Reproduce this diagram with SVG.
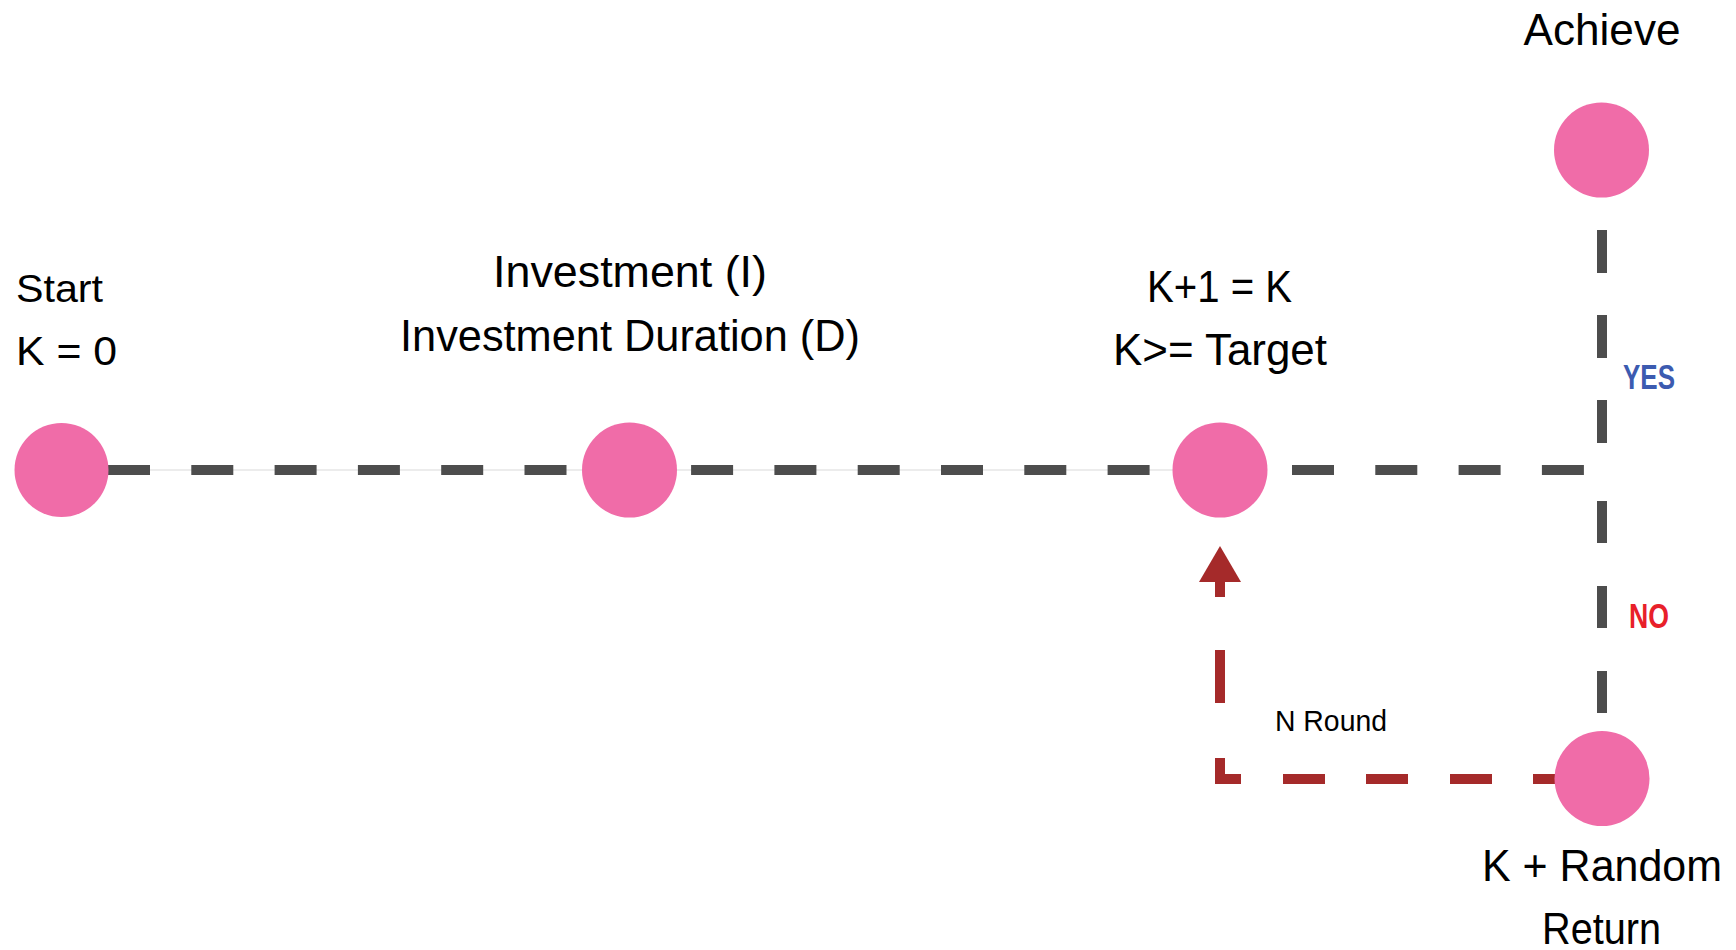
<svg xmlns="http://www.w3.org/2000/svg" width="1736" height="950" viewBox="0 0 1736 950">
<style>
.node{fill:#f06ca8}
.lbl{font-family:"Liberation Sans",Arial,sans-serif;font-size:44px;fill:#000}
.tag{font-family:"Liberation Sans",Arial,sans-serif;font-weight:bold;font-size:35px}
.thin{stroke:#e6e6e6;stroke-width:1.5;fill:none}
.gd{stroke:#4d4d4d;stroke-width:10;fill:none;stroke-dasharray:42 41.3}
.rd{stroke:#a52a2a;stroke-width:10;fill:none;stroke-linejoin:miter}
</style>
<rect width="1736" height="950" fill="#fff"/>
<g id="connectors">
  <line class="thin" x1="100" y1="470" x2="1180" y2="470"/>
  <line class="gd" x1="108" y1="470" x2="1180" y2="470"/>
  <line class="gd" x1="1292" y1="470" x2="1586" y2="470"/>
  <line class="gd" x1="1602" y1="230" x2="1602" y2="443" style="stroke-dasharray:43 42"/>
  <line class="gd" x1="1602" y1="501" x2="1602" y2="713" style="stroke-dasharray:42 43"/>
  <path class="rd" d="M1220,597 V779 H1560" stroke-dasharray="0 53 53 55 42 42 42 41 42 42 42 41 42 41 200"/>
  <line x1="1220" y1="580" x2="1220" y2="597" stroke="#a52a2a" stroke-width="10"/>
  <polygon points="1220,546 1241,582 1199,582" fill="#a52a2a"/>
  <text class="tag" x="1649" y="389" text-anchor="middle" fill="#3c5bb0" textLength="52" lengthAdjust="spacingAndGlyphs">YES</text>
  <text class="tag" x="1649" y="628" text-anchor="middle" fill="#e8202a" textLength="40" lengthAdjust="spacingAndGlyphs">NO</text>
  <text class="lbl" x="1331" y="731" text-anchor="middle" style="font-size:29px" textLength="112" lengthAdjust="spacingAndGlyphs">N Round</text>
</g>
<g id="node-start">
  <circle class="node" cx="61.5" cy="470" r="47"/>
  <text class="lbl" x="16" y="302" style="font-size:38px" textLength="87" lengthAdjust="spacingAndGlyphs">Start</text>
  <text class="lbl" x="16" y="365" style="font-size:40px" textLength="101" lengthAdjust="spacingAndGlyphs">K = 0</text>
</g>
<g id="node-investment">
  <circle class="node" cx="629.5" cy="470" r="47.5"/>
  <text class="lbl" x="630" y="287" text-anchor="middle" textLength="274" lengthAdjust="spacingAndGlyphs">Investment (I)</text>
  <text class="lbl" x="630" y="351" text-anchor="middle" textLength="460" lengthAdjust="spacingAndGlyphs">Investment Duration (D)</text>
</g>
<g id="node-k">
  <circle class="node" cx="1220" cy="470" r="47.5"/>
  <text class="lbl" x="1219.5" y="302" text-anchor="middle" textLength="145" lengthAdjust="spacingAndGlyphs">K+1 = K</text>
  <text class="lbl" x="1220" y="365" text-anchor="middle" textLength="214" lengthAdjust="spacingAndGlyphs">K&gt;= Target</text>
</g>
<g id="node-achieve">
  <circle class="node" cx="1601.5" cy="150" r="47.5"/>
  <text class="lbl" x="1602" y="45" text-anchor="middle" textLength="157" lengthAdjust="spacingAndGlyphs">Achieve</text>
</g>
<g id="node-random">
  <circle class="node" cx="1602" cy="778.5" r="47.5"/>
  <text class="lbl" x="1602" y="881" text-anchor="middle" textLength="240" lengthAdjust="spacingAndGlyphs">K + Random</text>
  <text class="lbl" x="1601.5" y="944" text-anchor="middle" textLength="119" lengthAdjust="spacingAndGlyphs">Return</text>
</g>
</svg>
